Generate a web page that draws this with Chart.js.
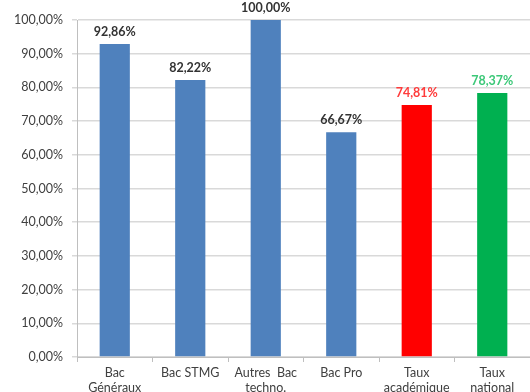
<!DOCTYPE html>
<html>
<head>
<meta charset="utf-8">
<script src="https://cdn.jsdelivr.net/npm/chart.js@4/dist/chart.umd.min.js"></script>
<style>
  html, body { margin: 0; padding: 0; background: #fff; }
  #wrap { width: 530px; height: 392px; }
</style>
</head>
<body>
<div id="wrap"><canvas id="c"></canvas></div>
<script>
var categories = [["Bac", "Généraux"], "Bac STMG", ["Autres  Bac", "techno."], "Bac Pro", ["Taux", "académique"], ["Taux", "national"]];
var rates = [92.86, 82.22, 100.00, 66.67, 74.81, 78.37];
var barColors = ["#4F81BD", "#4F81BD", "#4F81BD", "#4F81BD", "#FF0000", "#00B050"];
var labelColors = ["#333333", "#333333", "#333333", "#333333", "#FF3B3B", "#3CC878"];

function pct(v){
    return v.toFixed(2).replace(".", ",") + "%";
}

// labels drawn above each bar
var valueLabels = {
    id: 'valueLabels',
    afterDatasetsDraw: function(chart){
        var ctx = chart.ctx;
        var meta = chart.getDatasetMeta(0);
        ctx.save();
        ctx.font = "bold 12.5px Lato";
        ctx.textAlign = "center";
        ctx.textBaseline = "bottom";
        meta.data.forEach(function(bar, i){
            ctx.fillStyle = labelColors[i];
            ctx.fillText(pct(rates[i]), bar.x, bar.y - 6);
        });
        ctx.restore();
    }
};

window.addEventListener("load", function(){
    var ctx = document.getElementById("c").getContext('2d');
    new Chart(ctx, {
        type: 'bar',
        data: {
            labels: categories,
            datasets: [{
                data: rates,
                backgroundColor: barColors,
                barPercentage: 0.4,
                categoryPercentage: 1
            }]
        },
        plugins: [valueLabels],
        options: {
            responsive: true,
            maintainAspectRatio: false,
            animation: false,
            layout: { padding: { top: 20, left: 0, right: 0, bottom: 0 } },
            plugins: {
                legend: { display: false },
                title: { display: false },
                tooltip: { enabled: false }
            },
            scales: {
                x: {
                    afterFit: function(s){ s.height = 35; },
                    grid: { drawOnChartArea: false, drawTicks: true, tickLength: 5, color: "#BFBFBF", offset: true },
                    border: { color: "#BFBFBF" },
                    ticks: { color: "#404040", font: { family: "Lato", size: 12.5, lineHeight: 1.25 }, padding: 3, maxRotation: 0, autoSkip: false }
                },
                y: {
                    min: 0,
                    max: 100,
                    afterFit: function(s){ s.width = 77; },
                    grid: { color: "#D9D9D9", lineWidth: 1.5, tickLength: 5 },
                    border: { color: "#BFBFBF" },
                    ticks: { stepSize: 10, color: "#404040", font: { family: "Lato", size: 12.5 }, padding: 9,
                        callback: function(v){ return pct(v); } }
                }
            }
        }
    });
});
</script>
</body>
</html>
